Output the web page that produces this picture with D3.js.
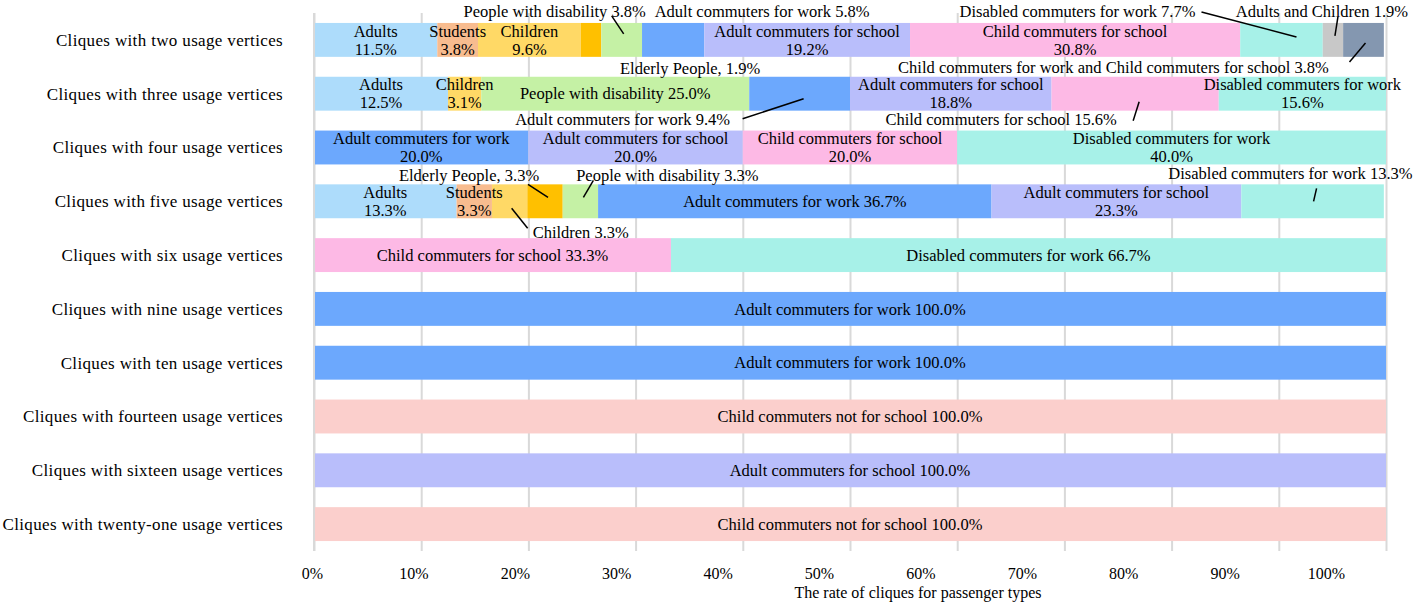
<!DOCTYPE html>
<html>
<head>
<meta charset="utf-8">
<script src="https://cdn.jsdelivr.net/npm/d3@7"></script>
<style>
  html, body { margin: 0; padding: 0; background: #ffffff; }
  svg { display: block; font-family: "Liberation Serif", "Times New Roman", serif; }
</style>
</head>
<body>
<svg id="chart" width="1415" height="603"></svg>
<script>
// ---------------- DATA ----------------
const categories = [
  "Cliques with two usage vertices",
  "Cliques with three usage vertices",
  "Cliques with four usage vertices",
  "Cliques with five usage vertices",
  "Cliques with six usage vertices",
  "Cliques with nine usage vertices",
  "Cliques with ten usage vertices",
  "Cliques with fourteen usage vertices",
  "Cliques with sixteen usage vertices",
  "Cliques with twenty-one usage vertices"
];
const passengerTypes = [
  "Adults", "Students", "Children", "Elderly People", "People with disability",
  "Adult commuters for work", "Adult commuters for school", "Child commuters for school",
  "Disabled commuters for work", "Adults and Children",
  "Child commuters for work and Child commuters for school", "Child commuters not for school"
];
const adults          = [11.5, 12.5, 0,    13.3, 0,    0,   0,   0,   0,   0];
const students        = [3.8,  0,    0,    3.3,  0,    0,   0,   0,   0,   0];
const children        = [9.6,  3.1,  0,    3.3,  0,    0,   0,   0,   0,   0];
const elderly         = [1.9,  0,    0,    3.3,  0,    0,   0,   0,   0,   0];
const disability      = [3.8,  25.0, 0,    3.3,  0,    0,   0,   0,   0,   0];
const adultWork       = [5.8,  9.4,  20.0, 36.7, 0,    100, 100, 0,   0,   0];
const adultSchool     = [19.2, 18.8, 20.0, 23.3, 0,    0,   0,   0,   100, 0];
const childSchool     = [30.8, 15.6, 20.0, 0,    33.3, 0,   0,   0,   0,   0];
const disabledWork    = [7.7,  15.6, 40.0, 13.3, 66.7, 0,   0,   0,   0,   0];
const adultsChildren  = [1.9,  0,    0,    0,    0,    0,   0,   0,   0,   0];
const childWorkSchool = [3.8,  0,    0,    0,    0,    0,   0,   0,   0,   0];
const childNotSchool  = [0,    0,    0,    0,    0,    0,   0,   100, 0,   100];
const tickLabels = ["0%", "10%", "20%", "30%", "40%", "50%", "60%", "70%", "80%", "90%", "100%"];
const axisTitle = "The rate of cliques for passenger types";

// ---------------- STYLE / LAYOUT ----------------
const colors = ["#addcfb", "#f8bc8f", "#ffd966", "#ffc000", "#c5f1a5", "#6ca8fd",
                "#b9befb", "#fdb9e5", "#a7f1e8", "#c8c8c8", "#8497b0", "#fbcfcc"];

// in-bar labels: [row, typeIndex, mode]
const inBar = [
  [0,0,"two"],[0,1,"two"],[0,2,"two"],[0,6,"two"],[0,7,"two"],
  [1,0,"two"],[1,2,"two"],[1,4,"one"],[1,6,"two"],[1,8,"two"],
  [2,5,"two"],[2,6,"two"],[2,7,"two"],[2,8,"two"],
  [3,0,"two"],[3,1,"two"],[3,5,"one"],[3,6,"two"],
  [4,7,"one"],[4,8,"one"],
  [5,5,"one"],[6,5,"one"],[7,11,"one"],[8,6,"one"],[9,11,"one"]
];
// outside annotations: [row, typeIndex, sep, dx, dy, anchor, line (relative to segment centre) or null]
const outside = [
  [0,3,", ", 99, 28, "middle", null],
  [0,4," ", -67, -29, "middle", [-10,-24, 2,-6]],
  [0,5," ", 89, -29, "middle", null],
  [0,8," ", -204, -29, "middle", [-80,-28, 15,-3]],
  [0,9," ", -11, -29, "middle", [5,-23, 2,-4]],
  [0,10," ", -250, 27, "middle", [-14,22, 2,3]],
  [1,5," ", -177, 26, "middle", [-57,25, 4,5]],
  [1,7," ", -134, 26, "middle", [-2,27, 4,8]],
  [3,2," ", 23, 31, "start", [2,7, 18,27]],
  [3,3,", ", -76, -26, "middle", [-17,-17, 3,-4]],
  [3,4," ", 87, -26, "middle", [13,-21, 3,-4]],
  [3,8," ", 100, -28, "end", [4,-13, 1,0]]
];

// ---------------- BUILD ----------------
const seriesArrays = [adults, students, children, elderly, disability, adultWork, adultSchool,
  childSchool, disabledWork, adultsChildren, childWorkSchool, childNotSchool];
const table = categories.map((c, i) => {
  const row = { cat: c };
  passengerTypes.forEach((t, k) => row[t] = seriesArrays[k][i]);
  return row;
});
const stacked = d3.stack().keys(passengerTypes)(table);

const svg = d3.select("#chart");
const plotLeft = 314, plotRight = 1386, plotTop = 13, plotBottom = 551;

const x = d3.scaleLinear().domain([0, 100]).range([plotLeft, plotRight]);
const xLabel = d3.scaleLinear().domain([0, 100]).range([312, 1326]);
const y = d3.scaleBand().domain(categories).range([plotTop, plotBottom])
  .paddingInner(0.37).paddingOuter(0.185);

// gridlines
const grid = svg.append("g").attr("transform", `translate(0,${plotBottom})`)
  .call(d3.axisBottom(x).tickValues(d3.range(0, 101, 10)).tickSize(-(plotBottom - plotTop)).tickFormat(""));
grid.select(".domain").remove();
grid.selectAll(".tick line").attr("stroke", "#d9d9d9").attr("stroke-width", 2);

// bars
const layers = svg.append("g").selectAll("g").data(stacked).join("g")
  .attr("fill", (d, i) => colors[i]);
layers.selectAll("rect").data(d => d.map(v => ({ v, key: d.key })))
  .join("rect")
  .attr("x", d => x(d.v[0]))
  .attr("width", d => Math.max(0, x(d.v[1]) - x(d.v[0])))
  .attr("y", d => y(d.v.data.cat))
  .attr("height", y.bandwidth());

// y axis line
svg.append("line").attr("x1", x(0)).attr("x2", x(0)).attr("y1", plotTop).attr("y2", plotBottom)
  .attr("stroke", "#d9d9d9").attr("stroke-width", 2);

// category labels
const yAxis = svg.append("g").attr("transform", `translate(${plotLeft - 31},0)`)
  .call(d3.axisLeft(y).tickSize(0).tickPadding(0));
yAxis.select(".domain").remove();
yAxis.selectAll("text").attr("font-size", 17).attr("letter-spacing", "0.35px")
  .attr("fill", "#000").attr("font-family", "Liberation Serif").attr("dy", "0.35em");

// tick labels
const xAxis = svg.append("g").attr("transform", `translate(0,${plotBottom + 22})`)
  .call(d3.axisBottom(xLabel).tickValues(d3.range(0, 101, 10)).tickSize(0).tickPadding(0)
    .tickFormat((d, i) => tickLabels[i]));
xAxis.select(".domain").remove();
xAxis.selectAll("text").attr("font-size", 16).attr("fill", "#000")
  .attr("font-family", "Liberation Serif").attr("dy", "0.35em");

svg.append("text").attr("x", 918).attr("y", 592).attr("dy", "0.35em")
  .attr("text-anchor", "middle").attr("font-size", 16).text(axisTitle);

// helpers
function seg(row, k) {
  const v = stacked[k][row];
  return { x0: x(v[0]), x1: x(v[1]), cx: (x(v[0]) + x(v[1])) / 2, cy: y(categories[row]) + y.bandwidth() / 2, val: seriesArrays[k][row] };
}
const fmt = v => v.toFixed(1) + "%";

const labels = svg.append("g").attr("font-size", 16.5).attr("fill", "#000");
inBar.forEach(([row, k, mode]) => {
  const s = seg(row, k);
  if (mode === "two") {
    labels.append("text").attr("x", s.cx).attr("y", s.cy - 9).attr("dy", "0.35em")
      .attr("text-anchor", "middle").text(passengerTypes[k]);
    labels.append("text").attr("x", s.cx).attr("y", s.cy + 9).attr("dy", "0.35em")
      .attr("text-anchor", "middle").text(fmt(s.val));
  } else {
    labels.append("text").attr("x", s.cx).attr("y", s.cy).attr("dy", "0.35em")
      .attr("text-anchor", "middle").text(passengerTypes[k] + " " + fmt(s.val));
  }
});

outside.forEach(([row, k, sep, dx, dy, anchor, line]) => {
  const s = seg(row, k);
  labels.append("text").attr("x", s.cx + dx).attr("y", s.cy + dy).attr("dy", "0.35em")
    .attr("text-anchor", anchor).text(passengerTypes[k] + sep + fmt(s.val));
  if (line) {
    svg.append("line")
      .attr("x1", s.cx + line[0]).attr("y1", s.cy + line[1])
      .attr("x2", s.cx + line[2]).attr("y2", s.cy + line[3])
      .attr("stroke", "#000").attr("stroke-width", 1.5);
  }
});
</script>
</body>
</html>
